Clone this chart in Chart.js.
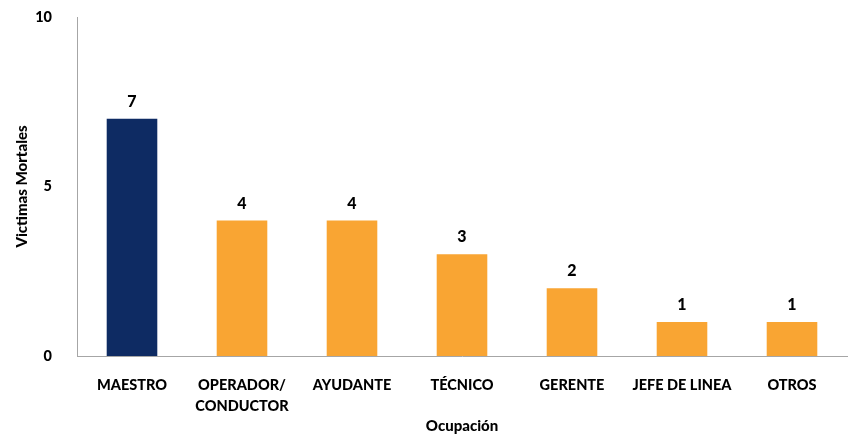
<!DOCTYPE html>
<html>
<head>
<meta charset="utf-8">
<script src="https://cdn.jsdelivr.net/npm/chart.js@4"></script>
<style>
  html, body { margin: 0; padding: 0; background: #fff; }
  #wrap { width: 853px; height: 441px; }
</style>
</head>
<body>
<div id="wrap"><canvas id="myChart"></canvas></div>
<script>
'use strict';

// data
let categories = ['MAESTRO', ['OPERADOR/', 'CONDUCTOR'], 'AYUDANTE', 'TÉCNICO', 'GERENTE', 'JEFE DE LINEA', 'OTROS'];
let victims = [7, 4, 4, 3, 2, 1, 1];
let barColors = ['#0e2b63', '#f9a533', '#f9a533', '#f9a533', '#f9a533', '#f9a533', '#f9a533'];

const fontName = 'Lato, "Open Sans", sans-serif';

// draws the value above each bar
const valueLabels = {
  id: 'valueLabels',
  afterDatasetsDraw(chart) {
    let ctx = chart.ctx;
    let meta = chart.getDatasetMeta(0);
    ctx.save();
    ctx.font = '900 16px ' + fontName;
    ctx.fillStyle = '#000';
    ctx.textAlign = 'center';
    ctx.textBaseline = 'bottom';
    meta.data.forEach(function (bar, i) {
      ctx.fillText(chart.data.datasets[0].data[i], bar.x, bar.y - 9);
    });
    ctx.restore();
  }
};

let ctx = document.getElementById('myChart').getContext('2d');
let myChart = new Chart(ctx, {
  type: 'bar',
  data: {
    labels: categories,
    datasets: [{
      label: 'Victimas Mortales',
      data: victims,
      backgroundColor: barColors,
      borderWidth: 0,
      barPercentage: 0.46,
      categoryPercentage: 1
    }]
  },
  options: {
    responsive: true,
    maintainAspectRatio: false,
    animation: false,
    layout: { padding: { top: 17, right: 6, left: 0, bottom: 0 } },
    plugins: {
      legend: { display: false },
      tooltip: { enabled: false }
    },
    scales: {
      x: {
        grid: { display: false },
        border: { display: true, color: '#a6a6a6', width: 1 },
        ticks: {
          color: '#000',
          padding: 11,
          maxRotation: 0,
          autoSkip: false,
          font: { family: fontName, size: 14.5, weight: '900', lineHeight: 1.45 }
        },
        title: {
          display: true,
          text: 'Ocupación',
          color: '#000',
          padding: { top: 4, bottom: 6 },
          font: { family: fontName, size: 15, weight: '900' }
        },
        afterFit(scale) { scale.height = 85; }
      },
      y: {
        min: 0,
        max: 10,
        grid: { display: false },
        border: { display: true, color: '#a6a6a6', width: 1 },
        ticks: {
          stepSize: 5,
          color: '#000',
          padding: 17,
          font: { family: fontName, size: 14.5, weight: '900' }
        },
        title: {
          display: true,
          text: 'Victimas Mortales',
          color: '#000',
          padding: { top: 13, bottom: 4 },
          font: { family: fontName, size: 15, weight: '900' }
        },
        afterFit(scale) {
          scale.width = 77;
          scale.paddingTop = 0; // tick padding would otherwise push the top down
        }
      }
    }
  },
  plugins: [valueLabels]
});
</script>
</body>
</html>
